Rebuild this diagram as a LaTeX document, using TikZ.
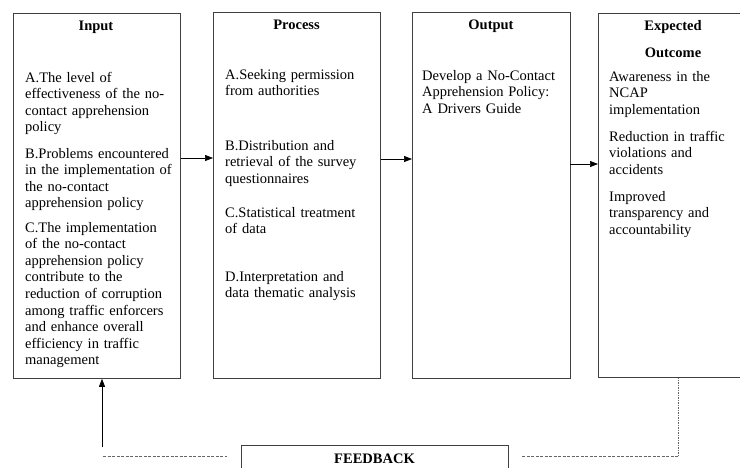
\documentclass[tikz,border=0pt]{standalone}
\usepackage{fontspec}
\setmainfont{Liberation Serif}
\usetikzlibrary{arrows.meta}
\begin{document}
\begin{tikzpicture}[x=1pt,y=-1pt,
  box/.style={draw=black!75, line width=0.8pt, anchor=north west, inner sep=0pt},
  head/.style={font=\fontsize{14.5}{16.6}\selectfont\bfseries, anchor=base, inner sep=0pt},
  body/.style={font=\fontsize{14.5}{16.6}\selectfont, anchor=base west, inner sep=0pt, text width=165pt, align=left},
  arr/.style={draw=black, line width=0.7pt, -{Triangle[length=8pt,width=6pt]}},
  fbline/.style={draw=black!60, line width=0.7pt, dash pattern=on 3pt off 1.5pt},
  fbdot/.style={draw=black!60, line width=0.7pt, dash pattern=on 1.5pt off 1pt}]
\clip (0,0) rectangle (740,467);
% boxes
\node[box, minimum width=167.5pt, minimum height=365.5pt] (in) at (12.5,12.5) {};
\node[box, minimum width=167pt, minimum height=366pt] (proc) at (213,12) {};
\node[box, minimum width=157.5pt, minimum height=366pt] (out) at (412,12) {};
\node[box, minimum width=150pt, minimum height=364pt] (exp) at (598,13) {};
\node[box, minimum width=267pt, minimum height=40pt] (fb) at (241,445) {};
% headings
\node[head] (inh) at (96,30) {Input};
\node[head] (proch) at (296.5,29) {Process};
\node[head] (outh) at (491,29) {Output};
\node[head] (exph) at (673,30) {Expected};
\node[head] (exph2) at (673,57) {Outcome};
\node[head] (fbt) at (374.5,463) {FEEDBACK};
% input
\node[body] (inA) at (25,82) {A.The level of\\effectiveness of the no-\\contact apprehension\\policy};
\node[body] (inB) at (25,158) {B.Problems encountered\\in the implementation of\\the no-contact\\apprehension policy};
\node[body] (inC) at (25,232) {C.The implementation\\of the no-contact\\apprehension policy\\contribute to the\\reduction of corruption\\among traffic enforcers\\and enhance overall\\efficiency in traffic\\management};
% process
\node[body] (pA) at (225,79) {A.Seeking permission\\from authorities};
\node[body] (pB) at (225,150) {B.Distribution and\\retrieval of the survey\\questionnaires};
\node[body] (pC) at (225,217) {C.Statistical treatment\\of data};
\node[body] (pD) at (225,281) {D.Interpretation and\\data thematic analysis};
% output
\node[body] (oA) at (422,80) {Develop a No-Contact\\Apprehension Policy:\\A Drivers Guide};
% expected
\node[body] (eA) at (609,81) {Awareness in the\\NCAP\\implementation};
\node[body] (eB) at (609,141) {Reduction in traffic\\violations and\\accidents};
\node[body] (eC) at (609,201) {Improved\\transparency and\\accountability};
% arrows
\coordinate (y1) at (0,158);
\coordinate (y2) at (0,159);
\coordinate (y3) at (0,164);
\draw[arr] (in.east |- y1) -- (proc.west |- y1);
\draw[arr] (proc.east |- y2) -- (out.west |- y2);
\draw[arr] (out.east |- y3) -- (exp.west |- y3);
% feedback
\coordinate (upS) at (102,447);
\coordinate (fbL0) at (103,456);
\coordinate (fbL1) at (227,456);
\coordinate (fbR0) at (522,456);
\coordinate (fbR1) at (678,456);
\draw[arr] (upS) -- (upS |- in.south);
\draw[fbline] (fbL0) -- (fbL1);
\draw[fbline] (fbR0) -- (fbR1);
\draw[fbdot] (fbR1) -- (fbR1 |- exp.south);
\end{tikzpicture}
\end{document}
